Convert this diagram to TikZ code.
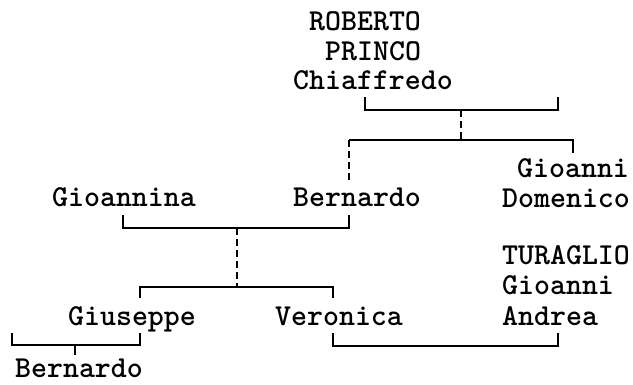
\documentclass[tikz,border=0pt]{standalone}
\usepackage{fontspec}

\begin{document}
\begin{tikzpicture}[x=1pt,y=-1pt,person/.style={font=\ttfamily\bfseries\fontsize{30.4}{30}\selectfont,anchor=base west,inner sep=0pt,text depth=0pt},link/.style={line width=1.3pt},dash link/.style={link,dash pattern=on 7pt off 4pt}]
            \useasboundingbox (0,0) rectangle (633,384);
            % names
            \node[person] (roberto) at (309,30) {ROBERTO};
            \node[person] (princo) at (325,60) {PRINCO};
            \node[person] (chiaffredo) at (293,89) {Chiaffredo};
            \node[person] (gioanni1) at (517,177) {Gioanni};
            \node[person] (domenico) at (502,207) {Domenico};
            \node[person] (bernardo1) at (293,206) {Bernardo};
            \node[person] (gioannina) at (52,206) {Gioannina};
            \node[person] (turaglio) at (502,264) {TURAGLIO};
            \node[person] (gioanni2) at (502,294) {Gioanni};
            \node[person] (andrea) at (502,325) {Andrea};
            \node[person] (giuseppe) at (68,325) {Giuseppe};
            \node[person] (veronica) at (275,325) {Veronica};
            \node[person] (bernardo2) at (15,377) {Bernardo};

            % bracket corners
            \coordinate (c1a) at (365,97);   \coordinate (c1b) at (558,97);
            \coordinate (c1s) at (461,110);  \coordinate (c1t) at (461,140);
            \coordinate (c2a) at (349,140);  \coordinate (c2b) at (573,140);
            \coordinate (c2d) at (349,180);  \coordinate (c2e) at (573,153);
            \coordinate (c3a) at (123,215);  \coordinate (c3b) at (349,215);
            \coordinate (c3s) at (237,228);  \coordinate (c3t) at (237,287);
            \coordinate (c4a) at (140,298);  \coordinate (c4b) at (333,298);
            \coordinate (c5a) at (12,333);   \coordinate (c5b) at (140,333);
            \coordinate (c5s) at (75,345);   \coordinate (c5t) at (75,355);
            \coordinate (c6a) at (333,333);  \coordinate (c6b) at (558,333);
            \coordinate (c6s) at (445,346);

            \draw[link] (c1a) |- (c1s) -| (c1b);
            \draw[dash link] (c1s) -- (c1t);
            \draw[link] (c2e) |- (c1t) -| (c2a);
            \draw[dash link] (c2a) -- (c2d);
            \draw[link] (c3a) |- (c3s) -| (c3b);
            \draw[dash link] (c3s) -- (c3t);
            \draw[link] (c4a) |- (c3t) -| (c4b);
            \draw[link] (c5a) |- (c5s) -| (c5b);
            \draw[link] (c5s) -- (c5t);
            \draw[link] (c6a) |- (c6s) -| (c6b);
        \end{tikzpicture}
\end{document}
